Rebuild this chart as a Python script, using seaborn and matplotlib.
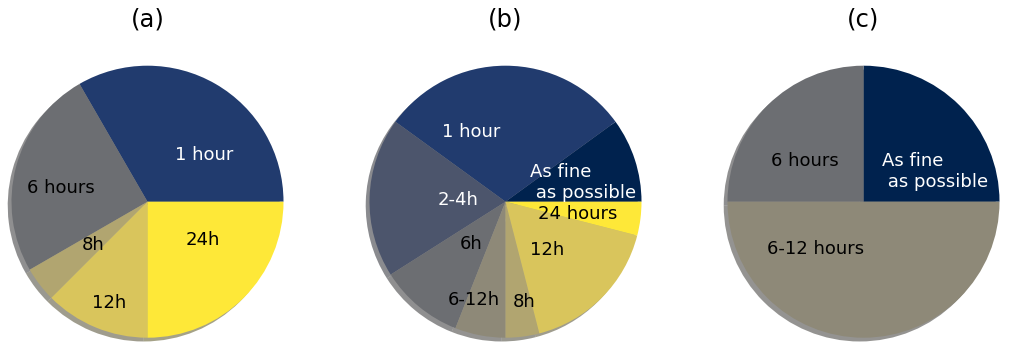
import numpy as np
import matplotlib
matplotlib.use("Agg")
import matplotlib.pyplot as plt
import seaborn as sns

# ---- data ----
titles = ["(a)", "(b)", "(c)"]

a_labels = ["1 hour", "6 hours", "8h", "12h", "24h"]
a_values = [8, 6, 1, 3, 6]
a_cats = [1, 3, 5, 6, 7]

b_labels = ["As fine\n as possible", "1 hour", "2-4h", "6h", "6-12h", "8h", "12h", "24 hours"]
b_values = [5, 15, 9.5, 5, 3, 2, 8.5, 2]
b_cats = [0, 1, 2, 3, 4, 5, 6, 7]

c_labels = ["As fine\n as possible", "6 hours", "6-12 hours"]
c_values = [1, 1, 2]
c_cats = [0, 3, 4]

# ---- style: label alignment and nudges (in pie-radius units) ----
a_ha = ["left", "right", "right", "right", "left"]
a_offsets = [(0, 0), (0, 0), (0, -0.075), (0, -0.378), (0, 0)]
b_ha = ["left", "right", "right", "right", "right", "left", "left", "left"]
b_offsets = [(-0.20, 0.018), (-0.035, 0.115), (0.20, 0), (0.085, 0), (0.03, -0.33),
             (0.0, -0.338), (-0.10, -0.072), (-0.155, -0.043)]
c_ha = ["left", "right", "right"]
c_offsets = [(-0.145, -0.059), (0.10, 0.018), (0.005, 0.052)]

sns.set_style("white")
palette = sns.color_palette(plt.get_cmap("cividis")(np.linspace(0, 1, 8))[:, :3].tolist())

W, H = 1009, 351
fig = plt.figure(figsize=(W / 100, H / 100), dpi=100)
R = 136.0
centers = [147.5, 505.5, 863.5]
cy = 201.7
half = 1.25 * R

pies = [(a_labels, a_values, a_cats, a_ha, a_offsets),
        (b_labels, b_values, b_cats, b_ha, b_offsets),
        (c_labels, c_values, c_cats, c_ha, c_offsets)]

for i, (labels, values, cats, has, offs) in enumerate(pies):
    ax = fig.add_axes([(centers[i] - half) / W, (H - cy - half) / H, 2 * half / W, 2 * half / H])
    colors = [palette[c] for c in cats]
    wedges, texts = ax.pie(values, labels=labels, colors=colors, startangle=0,
                           labeldistance=0.4, shadow=True,
                           wedgeprops=dict(linewidth=0, edgecolor="none"),
                           textprops=dict(fontsize=13))
    for t, c, ha, (dx, dy) in zip(texts, cats, has, offs):
        x, y = t.get_position()
        t.set_position((x + dx, y + dy))
        t.set_ha(ha)
        t.set_color("white" if c <= 2 else "black")
    ax.set_xlim(-1.25, 1.25)
    ax.set_ylim(-1.25, 1.25)
    ax.set_title(titles[i], fontsize=17.5, pad=3, color="black")

fig.savefig("out.png", dpi=100)
